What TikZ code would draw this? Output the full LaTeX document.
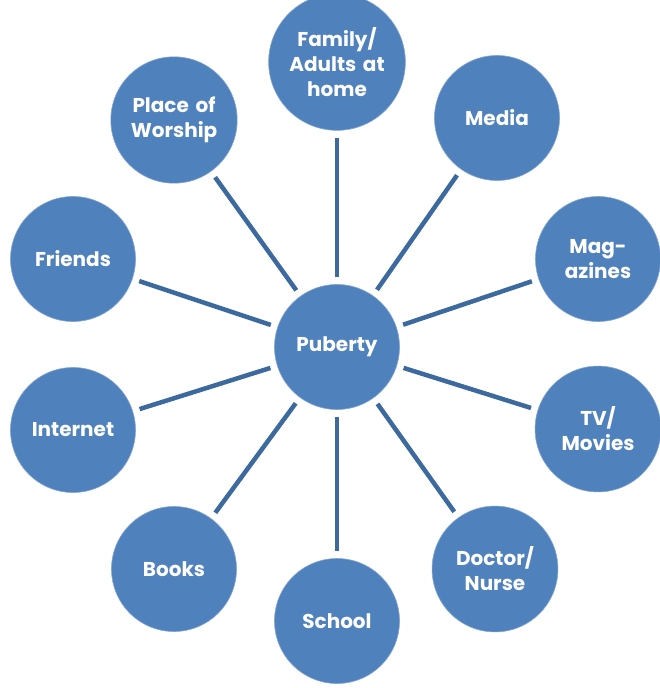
\documentclass[tikz,border=0pt]{standalone}
\usepackage{fontspec}
\setmainfont{Poppins}
\usepackage{tikz}

\definecolor{bubblefill}{HTML}{4F81BD}
\definecolor{spokeline}{HTML}{3D6A9E}

\tikzset{
  bubble/.style={circle,fill=bubblefill,draw=bubblefill!70!white,line width=0.6pt,
    minimum size=125pt,inner sep=0pt,text width=118pt,align=center,
    text=white,font=\bfseries\fontsize{20}{25}\selectfont},
  spoke/.style={draw=spokeline,line width=4.5pt,shorten <=7pt,shorten >=7pt}
}

\begin{document}
\begin{tikzpicture}[x=1pt,y=-1pt]
\useasboundingbox (0,0) rectangle (660,688);

% the hub
\node[bubble] (puberty) at (337,347) {Puberty};

% sources around it
\node[bubble] (family)  at (337,62)  {Family/\\Adults at\\home};
\node[bubble] (media)   at (497,118) {Media};
\node[bubble] (mags)    at (598,259) {Mag-\\azines};
\node[bubble] (tv)      at (598,429) {TV/\\Movies};
\node[bubble] (doctor)  at (495,569) {Doctor/\\Nurse};
\node[bubble] (school)  at (337,621) {School};
\node[bubble] (books)   at (174,569) {Books};
\node[bubble] (internet) at (73,430) {Internet};
\node[bubble] (friends) at (73,259)  {Friends};
\node[bubble] (worship) at (174,120) {Place of\\Worship};

% spokes from the hub
\foreach \src in {family,media,mags,tv,doctor,school,books,internet,friends,worship}
  \path[spoke] (puberty) -- (\src);
\end{tikzpicture}
\end{document}
